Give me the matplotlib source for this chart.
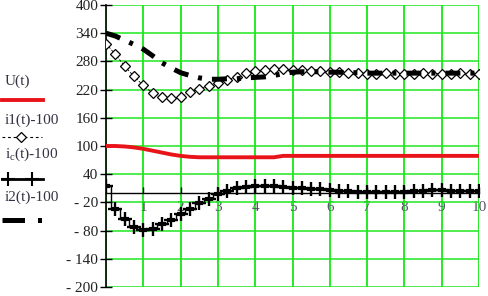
import matplotlib
matplotlib.use("Agg")
import matplotlib.pyplot as plt
from matplotlib.lines import Line2D
import numpy as np

# ---- data ----
t = [0, 0.25, 0.5, 0.75, 1, 1.25, 1.5, 1.75, 2, 2.25, 2.5, 2.75, 3, 3.25, 3.5, 3.75,
     4, 4.25, 4.5, 4.75, 5, 5.25, 5.5, 5.75, 6, 6.25, 6.5, 6.75, 7, 7.25, 7.5, 7.75,
     8, 8.25, 8.5, 8.75, 9, 9.25, 9.5, 9.75, 10]
U = [100, 100, 99, 97, 94, 90, 86, 82, 79, 77, 76, 76, 76, 76, 76, 76,
     76, 76, 76, 79, 79, 79, 79, 79, 79, 79, 79, 79, 79, 79, 79, 79,
     79, 79, 79, 79, 79, 79, 79, 79, 79]
i1 = [318, 295, 270, 248, 229, 212, 204, 202, 204, 214, 222, 228, 235, 241, 247, 255,
      259, 262, 263, 263, 262, 261, 260, 259, 258, 257, 256, 255, 254, 254, 255, 254,
      254, 254, 255, 254, 254, 254, 255, 254, 254]
ic = [15, -33, -55, -73, -78, -77, -65, -58, -45, -33, -22, -12, -3, 4, 10, 13,
      14, 15, 14, 13, 11, 10, 9, 8, 6, 5, 4, 3, 2, 2, 2, 3,
      3, 4, 5, 6, 6, 5, 5, 5, 5]
i2 = [340, 334, 325, 316, 306, 292, 277, 266, 256, 250, 245, 242, 242, 243, 243, 245,
      246, 247, 250, 254, 257, 258, 258, 258, 257, 257, 256, 256, 255, 255, 255, 255,
      255, 255, 255, 255, 255, 255, 255, 255, 255]
yticks = [-200, -140, -80, -20, 40, 100, 160, 220, 280, 340, 400]
xticks = [1, 2, 3, 4, 5, 6, 7, 8, 9, 10]
legend_labels = ["U(t)", "i1(t)-100", "i$_c$(t)-100", "i2(t)-100"]

W, H = 489, 296
plt.rcParams['font.family'] = ['Liberation Serif', 'DejaVu Serif']
plt.rcParams['mathtext.fontset'] = 'custom'
plt.rcParams['mathtext.rm'] = 'Liberation Serif'
plt.rcParams['mathtext.it'] = 'Liberation Serif'
fig = plt.figure(figsize=(W / 100, H / 100), dpi=100)
ax = fig.add_axes([106 / W, 1 - 287 / H, (479 - 106) / W, (287 - 5) / H])

green = '#1fe81f'
fs = 11
ax.set_xlim(0, 10)
ax.set_ylim(-200, 400)
ax.set_yticks(yticks)
ax.set_yticklabels([("- %d" % -v) if v < 0 else str(v) for v in yticks])
ax.set_xticks(xticks)
ax.set_xticklabels([str(v) for v in xticks])
ax.grid(True, color=green, lw=1.1)
ax.set_axisbelow(True)
for xv in range(0, 11):
    ax.axvline(xv, color=green, lw=1.1, zorder=0.5)

for s in ['top', 'right']:
    ax.spines[s].set_visible(False)
ax.spines['left'].set_color('black')
ax.spines['left'].set_linewidth(1.2)
ax.spines['bottom'].set_position(('data', 0))
ax.spines['bottom'].set_color('black')
ax.spines['bottom'].set_linewidth(1.0)
ax.tick_params(axis='y', direction='inout', length=9, width=1.0, pad=1,
               labelsize=fs, labelcolor='#222222')
ax.tick_params(axis='x', direction='in', length=4, width=1.0, pad=6,
               labelsize=fs, labelcolor='#555566')

# series
ax.plot(t, U, color='#e8141a', lw=2.8, zorder=3)
ax.plot(t, i1, color='black', lw=0.6, ls=(0, (3, 2)), marker='D', ms=4.8,
        mfc='white', mec='black', mew=0.9, zorder=4)
ax.plot(t, ic, color='black', lw=1.0, drawstyle='steps-mid', zorder=4)
ax.plot(t, ic, ls='none', marker='+', ms=10, mew=1.7, color='black', zorder=4)
ax.plot(t, ic, ls='none', marker='_', ms=6, mew=3, color='black', zorder=4)
ax.plot(t, i2, color='black', lw=3.6, ls=(0, (3, 2.0, 0.8, 2.0)), zorder=5)

# legend (manual, left side)
def fx(px):
    return px / W

def fy(py):
    return 1 - py / H

tc = '#333344'
fig.text(fx(5), fy(81), legend_labels[0], fontsize=fs, color=tc, va='center')
fig.add_artist(Line2D([fx(2), fx(43)], [fy(100), fy(100)], color='#e8141a', lw=2.8))
fig.text(fx(5), fy(120), legend_labels[1], fontsize=fs, color=tc, va='center')
fig.add_artist(Line2D([fx(2), fx(42)], [fy(137), fy(137)], color='black', lw=0.8,
                      ls=(0, (2.5, 2.5))))
fig.add_artist(Line2D([fx(21)], [fy(137)], ls='none', marker='D', ms=5,
                      mfc='white', mec='black', mew=0.9))
fig.text(fx(5), fy(154), legend_labels[2], fontsize=fs, color=tc, va='center')
fig.add_artist(Line2D([fx(2), fx(43)], [fy(179), fy(179)], color='black', lw=2.0))
fig.add_artist(Line2D([fx(8), fx(32)], [fy(179), fy(179)], ls='none', marker='+',
                      ms=10, mew=1.5, color='black'))
fig.text(fx(5), fy(197), legend_labels[3], fontsize=fs, color=tc, va='center')
fig.add_artist(Line2D([fx(2), fx(44)], [fy(220), fy(220)], color='black', lw=3.6,
                      ls=(0, (4.5, 2.6, 0.8, 3.2))))

fig.savefig('out.png', dpi=100)
